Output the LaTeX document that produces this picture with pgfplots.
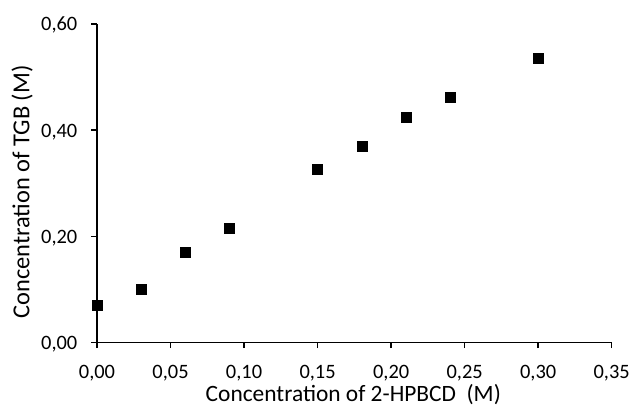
\documentclass[border=0pt]{standalone}
\usepackage{pgfplots}
\pgfplotsset{compat=1.18}
\usepackage{fontspec}
\setmainfont{Carlito}
\begin{document}
\begin{tikzpicture}
\useasboundingbox (-97bp,-65.3bp) rectangle (537bp,342.7bp);
\begin{axis}[
  at={(0,0)}, anchor=south west,
  scale only axis,
  width=514.7bp, height=318.7bp,
  xmin=0, xmax=0.35, ymin=0, ymax=0.6,
  xtick={0,0.05,...,0.35}, ytick={0,0.2,0.4,0.6},
  axis lines*=left,
  axis line style={line width=1.5bp, black, -},
  tick style={line width=1.5bp, black},
  tick align=outside,
  major tick length=5.5bp,
  every tick label/.append style={font=\fontsize{20.5}{24}\selectfont, inner sep=0pt},
  /pgf/number format/.cd, fixed, fixed zerofill, precision=2, use comma, assume math mode=true,
  /pgfplots/.cd,
  xticklabel style={anchor=base, yshift=-30.3bp},
  yticklabel style={anchor=base east, xshift=-14bp, yshift=-7bp},
  xlabel={Concentration of 2-HPBCD\ \ (M)},
  ylabel={Concentration of TGB (M)},
  xlabel style={font=\fontsize{23.5}{28}\selectfont, inner sep=0pt, anchor=base,
    at={(axis description cs:0.498,-0.1845)}},
  ylabel style={font=\fontsize{24.5}{28}\selectfont, inner sep=0pt, anchor=base,
    at={(axis description cs:-0.1315,0.4727)}, rotate=0},
  clip=false,
]
\addplot[only marks, mark=square*, mark size=5bp, black] coordinates {
  (0.00,0.070) (0.03,0.101) (0.06,0.170) (0.09,0.216)
  (0.15,0.326) (0.18,0.369) (0.21,0.424) (0.24,0.463) (0.30,0.536)
};
\end{axis}
\end{tikzpicture}
\end{document}
